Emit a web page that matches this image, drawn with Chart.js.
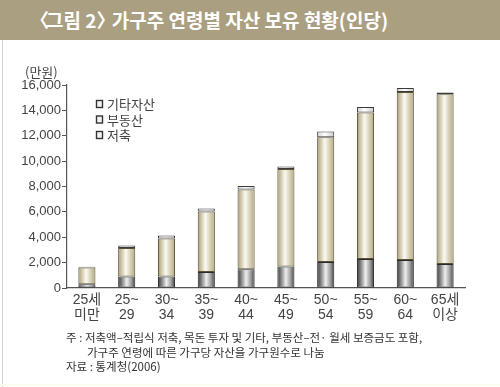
<!DOCTYPE html>
<html><head><meta charset="utf-8">
<script src="https://cdn.jsdelivr.net/npm/chart.js@4"></script>
<style>
html,body{margin:0;padding:0;background:#fff;}
#wrap{position:relative;width:500px;height:387px;overflow:hidden;background:#fff;font-family:"Liberation Sans","Noto Sans CJK KR",sans-serif;}
#banner{position:absolute;left:0;top:0;width:500px;height:40px;background:#ab9f81;}
#title{position:absolute;left:33px;top:8px;color:#fff;font-weight:bold;font-size:19px;font-family:"Noto Sans CJK KR",sans-serif;white-space:nowrap;letter-spacing:0px;line-height:24px;}
#title .lb{display:inline-block;margin-left:-3px;margin-right:-3px;}
#title .rb{display:inline-block;margin-right:-8px;}
#lborder{position:absolute;left:2px;top:40px;width:1px;height:347px;background:#cfcfcf;}
#bborder{position:absolute;left:0;top:384px;width:500px;height:2px;background:#fbfbef;}
#unit{position:absolute;left:25px;top:64px;font-size:13px;color:#444;font-family:"Noto Sans CJK KR",sans-serif;line-height:16px;}
.note{position:absolute;font-size:11.5px;color:#333;font-family:"Noto Sans CJK KR",sans-serif;white-space:nowrap;line-height:14px;}
#cv{position:absolute;left:0;top:0;width:500px;height:387px;}
</style></head>
<body>
<div id="wrap">
  <div id="banner"></div>
  <div id="title"><span class="lb">〈</span>그림 2<span class="rb">〉</span> 가구주 연령별 자산 보유 현황(인당)</div>
  <div id="lborder"></div>
  <div id="bborder"></div>
  <div id="cv"><canvas id="c" width="500" height="387"></canvas></div>
  <div id="unit">(만원)</div>
  <div class="note" style="left:66px;top:330px;">주 : 저축액–적립식 저축, 목돈 투자 및 기타, 부동산–전· 월세 보증금도 포함,</div>
  <div class="note" style="left:87px;top:345px;">가구주 연령에 따른 가구당 자산을 가구원수로 나눔</div>
  <div class="note" style="left:66px;top:359px;">자료 : 통계청(2006)</div>
</div>
<script>
const categories = [['25세','미만'],['25~','29'],['30~','34'],['35~','39'],['40~','44'],['45~','49'],['50~','54'],['55~','59'],['60~','64'],['65세','이상']];
const savings    = [300, 900, 900, 1270, 1480, 1690, 2040, 2280, 2200, 1900];
const realEstate = [1320, 2250, 3000, 4760, 6290, 7680, 9840, 11550, 13250, 13370];
const otherAssets= [50, 200, 230, 240, 270, 210, 450, 430, 320, 130];
const seriesNames = ['저축','부동산','기타자산'];
const yTicks = [0,2000,4000,6000,8000,10000,12000,14000,16000];

const BAR_PCT = 0.43;
function gradFill(stops){
  return function(ctx){
    const chart = ctx.chart;
    const xs = chart.scales && chart.scales.x;
    if(!chart.chartArea || !xs || ctx.dataIndex === undefined) return stops[0][1];
    const cx = xs.getPixelForValue(ctx.dataIndex);
    const w = (xs.width / categories.length) * BAR_PCT;
    const g = chart.ctx.createLinearGradient(cx - w/2, 0, cx + w/2, 0);
    stops.forEach(s => g.addColorStop(s[0], s[1]));
    return g;
  };
}
const savingsStops = [[0,'#3a3a3a'],[0.2,'#7c7c7c'],[0.5,'#eeeeee'],[0.78,'#9c9c9c'],[1,'#404040']];
const reStops = [[0,'#9c9070'],[0.12,'#c1b693'],[0.45,'#fbfaf3'],[0.75,'#d3ccb0'],[1,'#b4a983']];
const otherStops = [[0,'#cfcfcf'],[0.45,'#ffffff'],[1,'#c8c8c8']];

const legendPlugin = {
  id:'customLegend',
  afterDraw(chart){
    const c = chart.ctx;
    const items = chart.data.datasets.slice().reverse();
    c.save();
    items.forEach((ds,i)=>{
      const y = 104 + i*15.5;
      c.fillStyle = '#f4f4f4';
      c.fillRect(96.5, y-3.5, 6, 7);
      c.strokeStyle = '#333';
      c.lineWidth = 1.4;
      c.strokeRect(96.5, y-3.5, 6, 7);
      c.fillStyle = '#444';
      c.font = '13px "Noto Sans CJK KR", sans-serif';
      c.textBaseline = 'middle';
      c.textAlign = 'left';
      c.fillText(ds.label, 107, y+0.5);
    });
    c.restore();
  }
};

new Chart(document.getElementById('c'), {
  type:'bar',
  data:{
    labels: categories,
    datasets:[
      {label:seriesNames[0], data:savings, backgroundColor:gradFill(savingsStops), borderColor:'#2a2a2a'},
      {label:seriesNames[1], data:realEstate, backgroundColor:gradFill(reStops), borderColor:'#5a5038'},
      {label:seriesNames[2], data:otherAssets, backgroundColor:gradFill(otherStops), borderColor:'#3a3a3a'}
    ]
  },
  options:{
    responsive:false,
    animation:false,
    devicePixelRatio:1,
    layout:{padding:{left:0,right:35,top:85,bottom:0}},
    datasets:{bar:{borderWidth:1,borderSkipped:false,barPercentage:BAR_PCT,categoryPercentage:1}},
    plugins:{legend:{display:false},tooltip:{enabled:false},title:{display:false}},
    scales:{
      x:{
        stacked:true,
        grid:{display:false,drawTicks:false},
        border:{display:true,color:'#555',width:1.2},
        ticks:{color:'#444',font:{size:14,family:'"Liberation Sans","Noto Sans CJK KR",sans-serif',lineHeight:1.05},padding:5,maxRotation:0,autoSkip:false},
        afterFit(s){ s.height = 99; }
      },
      y:{
        stacked:true,
        min:0,max:16000,
        afterBuildTicks(s){ s.ticks = yTicks.map(v=>({value:v})); },
        grid:{drawOnChartArea:false,drawTicks:true,tickLength:5,color:'#555'},
        border:{display:true,color:'#555',width:1.2},
        ticks:{color:'#444',font:{size:13,family:'"Liberation Sans",sans-serif'},padding:1,
          callback:v=>v.toLocaleString('en-US')},
        afterFit(s){ s.width = 67; }
      }
    }
  },
  plugins:[legendPlugin]
});
</script>
</body></html>
